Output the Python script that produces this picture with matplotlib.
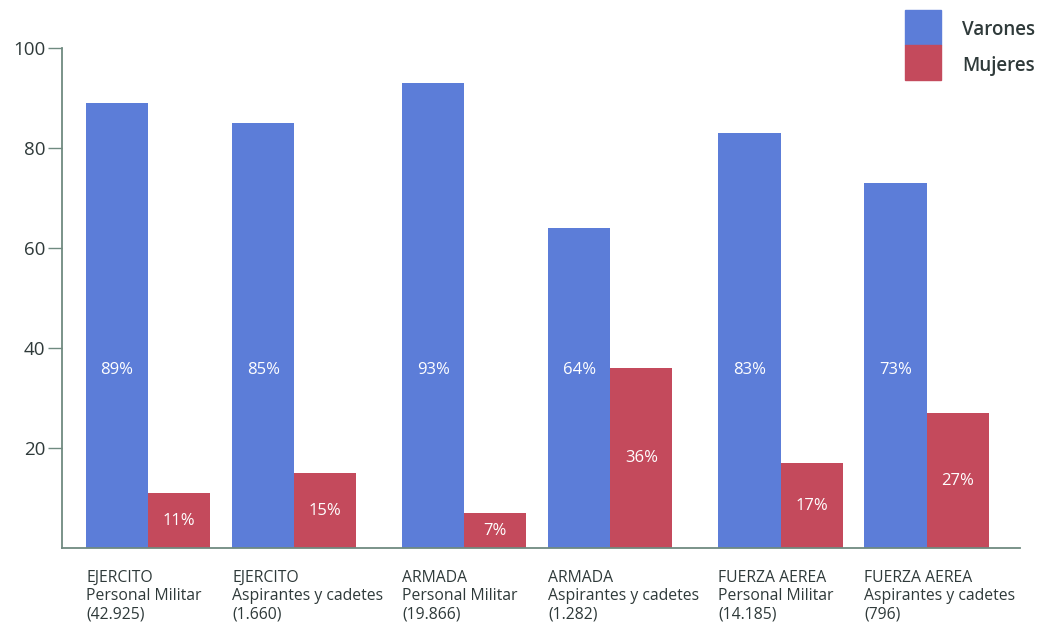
import matplotlib
matplotlib.use("Agg")
import matplotlib.pyplot as plt
from matplotlib.patches import Rectangle

plt.rcParams["font.family"] = ["Open Sans", "DejaVu Sans"]

# Composition by sex of each Armed Force (percent)
groups = [
    "EJERCITO\nPersonal Militar\n(42.925)",
    "EJERCITO\nAspirantes y cadetes\n(1.660)",
    "ARMADA\nPersonal Militar\n(19.866)",
    "ARMADA\nAspirantes y cadetes\n(1.282)",
    "FUERZA AEREA\nPersonal Militar\n(14.185)",
    "FUERZA AEREA\nAspirantes y cadetes\n(796)",
]
varones = [89, 85, 93, 64, 83, 73]
mujeres = [11, 15, 7, 36, 17, 27]
yticks = [20, 40, 60, 80, 100]

BLUE = "#5c7dd8"
RED = "#c44a5c"
AXIS = "#6f8a80"
TEXT = "#2f3a3a"

fig = plt.figure(figsize=(10.4, 6.26), dpi=100)
ax = fig.add_axes([0.0596, 0.1246, 0.9212, 0.7987])

width = 0.425
# pairs of bars per force, with a wider gap between forces
xs = [i + (i // 2) * 0.165 for i in range(len(groups))]

ax.bar([x - width / 2 for x in xs], varones, width, color=BLUE)
ax.bar([x + width / 2 for x in xs], mujeres, width, color=RED)

for x, v, m, g in zip(xs, varones, mujeres, groups):
    ax.text(x - width / 2, 35.6, f"{v}%", color="white", ha="center", va="center",
            fontsize=12)
    ax.text(x + width / 2, m / 2, f"{m}%", color="white", ha="center", va="center",
            fontsize=12)
    ax.text(x - width, -4.4, g, ha="left", va="top",
            fontsize=11.3, color=TEXT, linespacing=1.17)

ax.set_xlim(-0.59, 5.97)
ax.set_ylim(0, 100)
ax.set_xticks([])
ax.set_yticks(yticks)
ax.tick_params(axis="y", length=10, width=1, color=AXIS, labelsize=13.5,
               labelcolor=TEXT, pad=2)
for s in ["top", "right"]:
    ax.spines[s].set_visible(False)
for s in ["left", "bottom"]:
    ax.spines[s].set_color(AXIS)
    ax.spines[s].set_linewidth(1.3)

# legend: two stacked swatches
lx, lw, lh = 905 / 1040, 36 / 1040, 35 / 626
fig.patches.append(Rectangle((lx, 1 - 45 / 626), lw, lh, color=BLUE,
                             transform=fig.transFigure, figure=fig))
fig.patches.append(Rectangle((lx, 1 - 80 / 626), lw, lh, color=RED,
                             transform=fig.transFigure, figure=fig))
fig.text(962 / 1040, 1 - 30 / 626, "Varones", fontsize=13.5, fontweight="semibold",
         color=TEXT, va="center", ha="left")
fig.text(962 / 1040, 1 - 66 / 626, "Mujeres", fontsize=13.5, fontweight="semibold",
         color=TEXT, va="center", ha="left")

# subtitle running off the top edge
fig.text(60 / 1040, 1.012, "personal militar, aspirantes y cadetes de cada Fuerza Armada",
         fontsize=12, color="#8a9894", va="center", ha="left")

fig.savefig("out.png", dpi=100)
